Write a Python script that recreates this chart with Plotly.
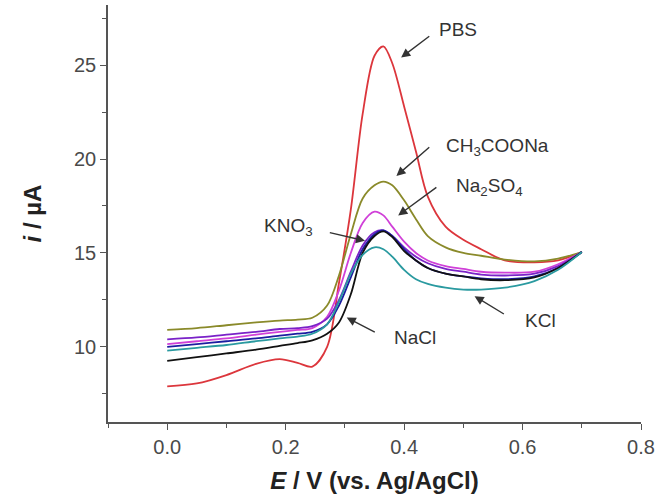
import plotly.graph_objects as go

# Potential (V vs. Ag/AgCl)
E = [0.00, 0.05, 0.10, 0.15, 0.19, 0.22, 0.245, 0.27, 0.29, 0.31, 0.33, 0.35,
     0.365, 0.38, 0.40, 0.42, 0.44, 0.47, 0.50, 0.53, 0.57, 0.62, 0.66, 0.70]

# Currents (µA)
i_PBS = [7.9, 8.05, 8.5, 9.1, 9.35, 9.15, 8.95, 10.0, 13.4, 17.3, 22.4, 25.5,
         26.0, 25.1, 22.8, 20.4, 18.0, 16.4, 15.7, 15.2, 14.6, 14.5, 14.6, 15.05]
i_CH3COONa = [10.9, 11.0, 11.15, 11.3, 11.4, 11.45, 11.55, 12.2, 13.8, 16.0, 17.9, 18.6,
              18.8, 18.6, 17.8, 16.8, 15.9, 15.3, 15.0, 14.85, 14.65, 14.55, 14.7, 15.05]
i_Na2SO4 = [10.15, 10.3, 10.45, 10.65, 10.8, 10.9, 11.0, 11.6, 13.0, 15.0, 16.6, 17.2,
            17.0, 16.4, 15.6, 15.0, 14.6, 14.3, 14.15, 14.0, 13.95, 14.0, 14.4, 15.05]
i_KNO3 = [10.4, 10.5, 10.65, 10.8, 10.95, 11.0, 11.1, 11.5, 12.5, 14.0, 15.4, 16.1,
          16.2, 15.9, 15.3, 14.8, 14.45, 14.15, 14.0, 13.85, 13.8, 13.9, 14.3, 15.05]
i_blue = [10.0, 10.15, 10.3, 10.45, 10.6, 10.7, 10.8, 11.2, 12.2, 13.7, 15.2, 16.0,
          16.2, 15.9, 15.2, 14.6, 14.2, 13.9, 13.75, 13.65, 13.6, 13.75, 14.2, 15.05]
i_NaCl = [9.25, 9.45, 9.65, 9.85, 10.05, 10.2, 10.35, 10.7, 11.3, 12.8, 15.0, 15.9,
          16.15, 15.85, 15.1, 14.6, 14.2, 13.9, 13.75, 13.6, 13.55, 13.7, 14.2, 15.05]
i_KCl = [9.8, 9.95, 10.1, 10.3, 10.45, 10.55, 10.7, 11.2, 12.4, 13.9, 14.9, 15.3,
         15.2, 14.8, 14.1, 13.6, 13.35, 13.15, 13.05, 13.05, 13.15, 13.5, 14.1, 15.05]

series_names = ["PBS", "CH3COONa", "Na2SO4", "KNO3", "blue", "NaCl", "KCl"]
series_values = [i_PBS, i_CH3COONa, i_Na2SO4, i_KNO3, i_blue, i_NaCl, i_KCl]
series_colors = ["#dc363c", "#8a8a2a", "#d040d8", "#7a22c8", "#1c1ca0", "#111111", "#2a9aa0"]

# Labels: text, text position, arrow tail, arrow tip (data coords)
label_texts = ["PBS", "CH<sub>3</sub>COONa", "Na<sub>2</sub>SO<sub>4</sub>",
               "KNO<sub>3</sub>", "NaCl", "KCl"]
label_pos = [(0.491, 26.88), (0.557, 20.65), (0.545, 18.5), (0.205, 16.4),
             (0.418, 10.5), (0.63, 11.4)]
arrow_tail = [(0.445, 26.6), (0.445, 20.7), (0.457, 18.55), (0.272, 16.1),
              (0.353, 10.75), (0.571, 11.7)]
arrow_tip = [(0.395, 25.4), (0.387, 19.1), (0.39, 17.0), (0.334, 15.65),
             (0.303, 11.56), (0.519, 12.7)]

x_ticks = [0.0, 0.2, 0.4, 0.6, 0.8]
y_ticks = [10, 15, 20, 25]

fig = go.Figure()
for name, vals, col in zip(series_names, series_values, series_colors):
    fig.add_trace(go.Scatter(x=E, y=vals, name=name, mode="lines",
                             line=dict(color=col, width=1.8, shape="spline", smoothing=0.9)))

font_family = "Liberation Sans, Arial, sans-serif"
for t, p in zip(label_texts, label_pos):
    fig.add_annotation(x=p[0], y=p[1], text=t, showarrow=False,
                       font=dict(family=font_family, size=19, color="#333333"))
for tail, tip in zip(arrow_tail, arrow_tip):
    fig.add_annotation(x=tip[0], y=tip[1], ax=tail[0], ay=tail[1],
                       axref="x", ayref="y", xref="x", yref="y", text="",
                       showarrow=True, arrowhead=2, arrowsize=1.3, arrowwidth=1.4,
                       arrowcolor="#333333")

axis_common = dict(showline=True, linecolor="#555555", linewidth=1.5, ticks="outside",
                   ticklen=6, tickwidth=1.2, tickcolor="#555555", showgrid=False,
                   zeroline=False, mirror=False,
                   tickfont=dict(family=font_family, size=20, color="#4a4a4a"))

fig.update_xaxes(range=[-0.1, 0.8], tickvals=x_ticks, tickformat=".1f",
                 minor=dict(dtick=0.1, tick0=0, ticks="outside", ticklen=4, tickcolor="#555555"),
                 title=dict(text="<b><i>E</i> / V (vs. Ag/AgCl)</b>", standoff=15,
                            font=dict(family=font_family, size=24, color="#222222")),
                 **axis_common)
fig.update_yaxes(range=[6, 28.2], tickvals=y_ticks,
                 minor=dict(dtick=2.5, tick0=0, ticks="outside", ticklen=4, tickcolor="#555555"),
                 title=dict(text="<b><i>i</i> / µA</b>", standoff=26,
                            font=dict(family=font_family, size=24, color="#222222")),
                 **axis_common)

fig.update_layout(width=660, height=498, margin=dict(l=108, r=17, t=5, b=76),
                  plot_bgcolor="white", paper_bgcolor="white", showlegend=False)

fig.write_html("out.html", config={"displayModeBar": False},
               post_script="document.body.style.margin='0px';")
